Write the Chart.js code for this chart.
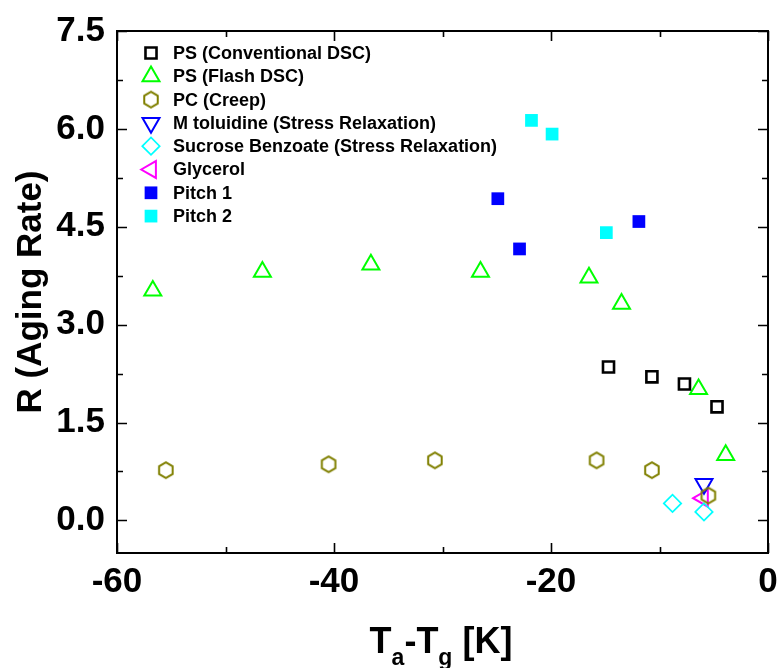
<!DOCTYPE html>
<html>
<head>
<meta charset="utf-8">
<script src="https://cdn.jsdelivr.net/npm/chart.js@4/dist/chart.umd.min.js"></script>
<style>
  html, body { margin: 0; padding: 0; background: #ffffff; }
  #wrap { width: 780px; height: 668px; }
</style>
</head>
<body>
<div id="wrap"><canvas id="c" width="780" height="668"></canvas></div>
<script>
// Aging rate R versus Ta - Tg for the different glasses and methods
const seriesNames = [
  'PS (Conventional DSC)',
  'PS (Flash DSC)',
  'PC (Creep)',
  'M toluidine (Stress Relaxation)',
  'Sucrose Benzoate (Stress Relaxation)',
  'Glycerol',
  'Pitch 1',
  'Pitch 2'
];

const psConvX = [-14.7, -10.7, -7.7, -4.7];
const psConvY = [2.35, 2.20, 2.09, 1.74];

const psFlashX = [-56.7, -46.6, -36.6, -26.5, -16.5, -13.5, -6.4, -3.9];
const psFlashY = [3.52, 3.81, 3.92, 3.81, 3.72, 3.32, 2.01, 1.00];

const pcCreepX = [-55.5, -40.5, -30.7, -15.8, -10.7, -5.5];
const pcCreepY = [0.77, 0.86, 0.92, 0.92, 0.77, 0.38];

const mTolX = [-5.9];
const mTolY = [0.56];

const sucroseX = [-8.8, -5.9];
const sucroseY = [0.26, 0.13];

const glycerolX = [-6.0];
const glycerolY = [0.34];

const pitch1X = [-24.9, -22.9, -11.9];
const pitch1Y = [4.93, 4.16, 4.58];

const pitch2X = [-21.8, -19.9, -14.9];
const pitch2Y = [6.13, 5.92, 4.41];

const xMajorTicks = [-60, -40, -20, 0];
const xMinorTicks = [-50, -30, -10];
const yMajorTicks = [0, 1.5, 3.0, 4.5, 6.0, 7.5];
const yMinorTicks = [0.75, 2.25, 3.75, 5.25, 6.75];

function pts(xs, ys) {
  return xs.map((x, i) => ({ x: x, y: ys[i] }));
}

// hexagon marker (pointy top) drawn on a small canvas
function hexagonMarker(color, r, lw) {
  const s = Math.ceil(2 * r + lw + 2);
  const c = document.createElement('canvas');
  c.width = s; c.height = s;
  const g = c.getContext('2d');
  g.strokeStyle = color;
  g.lineWidth = lw;
  g.beginPath();
  for (let i = 0; i < 6; i++) {
    const a = (-90 + 60 * i) * Math.PI / 180;
    const px = s / 2 + r * Math.cos(a);
    const py = s / 2 + r * Math.sin(a);
    if (i === 0) g.moveTo(px, py); else g.lineTo(px, py);
  }
  g.closePath();
  g.stroke();
  return c;
}

const OLIVE = '#808000';
const hexImg = hexagonMarker(OLIVE, 7.8, 2);

const datasets = [
  { label: seriesNames[0], data: pts(psConvX, psConvY), pointStyle: 'rect', pointRadius: 7.8,
    borderColor: '#000000', backgroundColor: 'rgba(0,0,0,0)', pointBorderWidth: 2.6 },
  { label: seriesNames[1], data: pts(psFlashX, psFlashY), pointStyle: 'triangle', pointRadius: 9.8,
    borderColor: '#00ff00', backgroundColor: 'rgba(0,0,0,0)', pointBorderWidth: 2 },
  { label: seriesNames[2], data: pts(pcCreepX, pcCreepY), pointStyle: hexImg, pointRadius: 8,
    borderColor: OLIVE, backgroundColor: 'rgba(0,0,0,0)', pointBorderWidth: 2 },
  { label: seriesNames[3], data: pts(mTolX, mTolY), pointStyle: 'triangle', pointRotation: 180, pointRadius: 9.8,
    borderColor: '#0000ff', backgroundColor: 'rgba(0,0,0,0)', pointBorderWidth: 2 },
  { label: seriesNames[4], data: pts(sucroseX, sucroseY), pointStyle: 'rectRot', pointRadius: 8.7,
    borderColor: '#00ffff', backgroundColor: 'rgba(0,0,0,0)', pointBorderWidth: 1.7 },
  { label: seriesNames[5], data: pts(glycerolX, glycerolY), pointStyle: 'triangle', pointRotation: 270, pointRadius: 9.8,
    borderColor: '#ff00ff', backgroundColor: 'rgba(0,0,0,0)', pointBorderWidth: 2 },
  { label: seriesNames[6], data: pts(pitch1X, pitch1Y), pointStyle: 'rect', pointRadius: 9,
    borderColor: '#0000ff', backgroundColor: '#0000ff', pointBorderWidth: 0 },
  { label: seriesNames[7], data: pts(pitch2X, pitch2Y), pointStyle: 'rect', pointRadius: 9,
    borderColor: '#00ffff', backgroundColor: '#00ffff', pointBorderWidth: 0 }
];

const FONT = '"Liberation Sans", Arial, Helvetica, sans-serif';

// frame, inward ticks on all four sides, axis titles and legend
const decorations = {
  id: 'decorations',
  afterDraw(chart) {
    const ctx = chart.ctx;
    const a = chart.chartArea;
    const xs = chart.scales.x;
    const ys = chart.scales.y;
    ctx.save();
    ctx.strokeStyle = '#000000';
    ctx.lineWidth = 2;
    ctx.strokeRect(a.left, a.top, a.right - a.left, a.bottom - a.top);

    ctx.lineWidth = 1.6;
    ctx.beginPath();
    const tickX = (list, len) => list.forEach(v => {
      const p = Math.round(xs.getPixelForValue(v)) + 0.5;
      ctx.moveTo(p, a.bottom); ctx.lineTo(p, a.bottom - len);
      ctx.moveTo(p, a.top); ctx.lineTo(p, a.top + len);
    });
    const tickY = (list, len) => list.forEach(v => {
      const p = Math.round(ys.getPixelForValue(v)) + 0.5;
      ctx.moveTo(a.left, p); ctx.lineTo(a.left + len, p);
      ctx.moveTo(a.right, p); ctx.lineTo(a.right - len, p);
    });
    tickX(xMajorTicks, 10); tickX(xMinorTicks, 6);
    tickY(yMajorTicks, 10); tickY(yMinorTicks, 6);
    ctx.stroke();

    // y title
    ctx.fillStyle = '#000000';
    ctx.font = 'bold 35px ' + FONT;
    ctx.textAlign = 'center';
    ctx.textBaseline = 'middle';
    ctx.save();
    ctx.translate(31, (a.top + a.bottom) / 2);
    ctx.rotate(-Math.PI / 2);
    ctx.fillText('R (Aging Rate)', 0, 0);
    ctx.restore();

    // x title with subscripts
    const mainFont = 'bold 36px ' + FONT;
    const subFont = 'bold 23px ' + FONT;
    const parts = [
      { t: 'T', f: mainFont, dy: 0 },
      { t: 'a', f: subFont, dy: 12 },
      { t: '-T', f: mainFont, dy: 0 },
      { t: 'g', f: subFont, dy: 12 },
      { t: ' [K]', f: mainFont, dy: 0 }
    ];
    let total = 0;
    parts.forEach(p => { ctx.font = p.f; p.w = ctx.measureText(p.t).width; total += p.w; });
    let cx = 441 - total / 2;
    const baseY = 653;
    ctx.textAlign = 'left';
    ctx.textBaseline = 'alphabetic';
    parts.forEach(p => { ctx.font = p.f; ctx.fillText(p.t, cx, baseY + p.dy); cx += p.w; });

    // legend
    const lx = 151, tx = 173, ly0 = 53, dy = 23.3;
    chart.data.datasets.forEach((ds, i) => {
      const y = ly0 + i * dy;
      ctx.strokeStyle = ds.borderColor;
      ctx.fillStyle = ds.backgroundColor;
      ctx.lineWidth = ds.pointBorderWidth;
      Chart.helpers.drawPoint(ctx, {
        pointStyle: ds.pointStyle,
        rotation: ds.pointRotation || 0,
        radius: ds.pointRadius,
        borderWidth: ds.pointBorderWidth
      }, lx, y);
      ctx.fillStyle = '#000000';
      ctx.font = 'bold 18px ' + FONT;
      ctx.textAlign = 'left';
      ctx.textBaseline = 'middle';
      ctx.fillText(ds.label, tx, y + 1);
    });
    ctx.restore();
  }
};

new Chart(document.getElementById('c'), {
  type: 'scatter',
  data: { datasets: datasets },
  options: {
    responsive: false,
    animation: false,
    devicePixelRatio: 1,
    layout: { padding: { top: 31, right: 12, left: 0, bottom: 0 } },
    plugins: { legend: { display: false }, tooltip: { enabled: false } },
    scales: {
      x: {
        type: 'linear', position: 'bottom', min: -60, max: 0,
        grid: { display: false, drawTicks: false },
        border: { display: false },
        afterBuildTicks(scale) { scale.ticks = xMajorTicks.map(v => ({ value: v })); },
        afterFit(scale) {
          scale.height = 668 - 553;
          scale.paddingLeft = 0;
          scale.paddingRight = 0;
        },
        ticks: {
          autoSkip: false, maxRotation: 0, padding: 8, color: '#000000',
          font: { family: FONT, size: 35, weight: 'bold' },
          callback: v => String(v)
        }
      },
      y: {
        type: 'linear', position: 'left', min: -0.5, max: 7.5,
        grid: { display: false, drawTicks: false },
        border: { display: false },
        afterBuildTicks(scale) { scale.ticks = yMajorTicks.map(v => ({ value: v })); },
        afterFit(scale) {
          scale.width = 117;
          scale.paddingTop = 0;
          scale.paddingBottom = 0;
        },
        ticks: {
          autoSkip: false, padding: 12, color: '#000000',
          font: { family: FONT, size: 35, weight: 'bold' },
          callback: v => Number(v).toFixed(1)
        }
      }
    }
  },
  plugins: [decorations]
});
</script>
</body>
</html>
